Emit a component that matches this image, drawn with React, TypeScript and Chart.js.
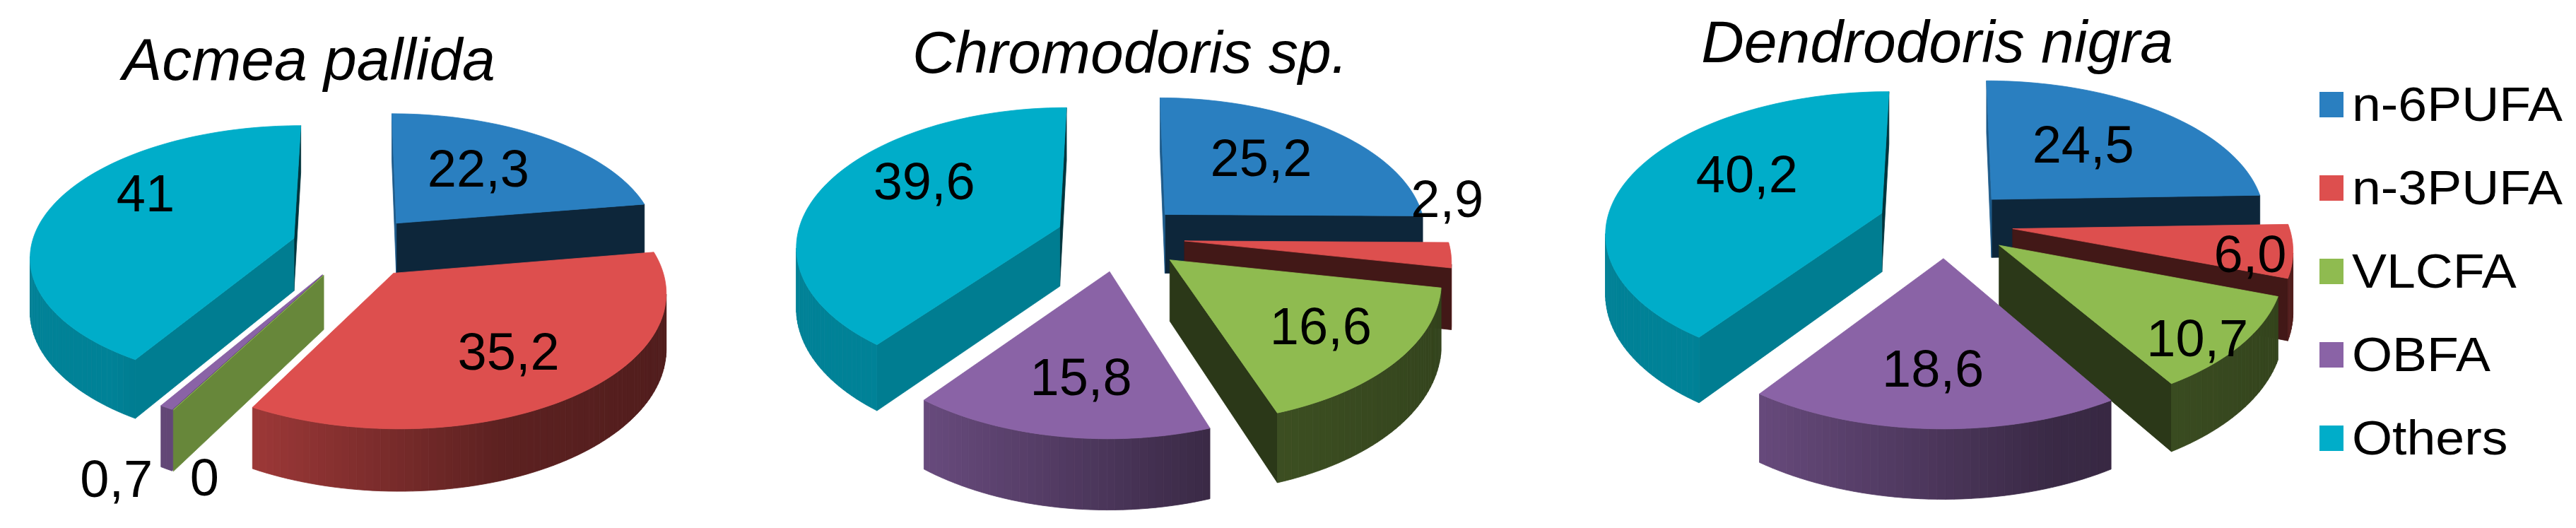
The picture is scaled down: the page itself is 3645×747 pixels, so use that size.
import React, { useEffect, useRef } from "react";
import { Chart, registerables } from "chart.js";

Chart.register(...registerables);

const categories = ["n-6PUFA", "n-3PUFA", "VLCFA", "OBFA", "Others"];
const acmeaValues = [22.3, 35.2, 0, 0.7, 41];
const chromodorisValues = [25.2, 2.9, 16.6, 15.8, 39.6];
const dendrodorisValues = [24.5, 6.0, 10.7, 18.6, 40.2];
const acmeaLabels = ["22,3", "35,2", "0", "0,7", "41"];
const chromodorisLabels = ["25,2", "2,9", "16,6", "15,8", "39,6"];
const dendrodorisLabels = ["24,5", "6,0", "10,7", "18,6", "40,2"];
const colors = ["#2A7FC0", "#DD4F4E", "#8FBB50", "#8A63A6", "#00ADC9"];

const FONT = '"Liberation Sans", Arial, sans-serif';
const K = 0.126;
const EXPLODE = 0.245;
const STEP = Math.PI / 120;

function shade(hex: string, f: number) {
  const n = parseInt(hex.slice(1), 16);
  const c = [(n >> 16) & 255, (n >> 8) & 255, n & 255].map((v) => Math.round(v * f));
  return `rgb(${c[0]},${c[1]},${c[2]})`;
}

function outerShade(nu: number) {
  if (nu < -0.6) return 0.75;
  if (nu < 0.33) return 0.75 - ((nu + 0.6) / 0.93) * 0.33;
  return 0.42 - ((nu - 0.33) / 0.67) * 0.06;
}

const pie3d = {
  id: "pie3d",
  beforeDatasetsDraw(chart: any) {
    const opts = chart.options.plugins.pie3d;
    const ctx: CanvasRenderingContext2D = chart.ctx;
    const meta = chart.getDatasetMeta(0);
    const arcs: any[] = meta.data;
    const order = arcs
      .map((a, i) => ({ a, i, mid: (a.startAngle + a.endAngle) / 2 }))
      .sort((p, q) => Math.sin(p.mid) - Math.sin(q.mid));

    const projector = (arc: any, mid: number) => {
      const ou = Math.cos(mid) * EXPLODE;
      const ov = Math.sin(mid) * EXPLODE;
      return (r: number, ang: number, z: number) => {
        const u = ou + r * Math.cos(ang);
        const v = ov + r * Math.sin(ang);
        const w = 1 / (1 - K * v);
        return [
          arc.x + arc.outerRadius * u * w,
          arc.y + arc.outerRadius * opts.squash * v * w + opts.depth * z * w,
        ];
      };
    };
    const area = (pts: number[][]) => {
      let s = 0;
      pts.forEach((p, i) => {
        const q = pts[(i + 1) % pts.length];
        s += p[0] * q[1] - q[0] * p[1];
      });
      return s / 2;
    };
    const poly = (pts: number[][], fill: string) => {
      ctx.beginPath();
      pts.forEach((p, i) => (i ? ctx.lineTo(p[0], p[1]) : ctx.moveTo(p[0], p[1])));
      ctx.closePath();
      ctx.fillStyle = fill;
      ctx.strokeStyle = fill;
      ctx.lineWidth = 0.8;
      ctx.fill();
      ctx.stroke();
    };

    ctx.save();
    order.forEach(({ a, mid }) => {
      const P = projector(a, mid);
      const col = a.options.backgroundColor;
      const start = a.startAngle;
      const end = a.endAngle;
      const wallEnd = [P(0, 0, 0), P(1, end, 0), P(1, end, 1), P(0, 0, 1)];
      const wallStart = [P(0, 0, 0), P(1, start, 0), P(1, start, 1), P(0, 0, 1)];
      if (area(wallEnd) > 0) poly(wallEnd, shade(col, 0.3));
      if (area(wallStart) < 0) poly(wallStart, shade(col, 0.72));
      const n = Math.max(1, Math.ceil((end - start) / STEP));
      for (let s = 0; s < n; s++) {
        const a1 = start + ((end - start) * s) / n;
        const a2 = start + ((end - start) * (s + 1)) / n;
        const q = [P(1, a1, 0), P(1, a2, 0), P(1, a2, 1), P(1, a1, 1)];
        if (area(q) < 0) poly(q, shade(col, outerShade(Math.cos((a1 + a2) / 2))));
      }
      const top = [P(0, 0, 0)];
      for (let s = 0; s <= n; s++) top.push(P(1, start + ((end - start) * s) / n, 0));
      poly(top, col);
    });

    ctx.fillStyle = "#000";
    ctx.textAlign = "center";
    ctx.textBaseline = "middle";
    ctx.font = `74px ${FONT}`;
    arcs.forEach((a, i) => {
      const mid = (a.startAngle + a.endAngle) / 2;
      const P = projector(a, mid);
      const p = P(0.62, mid, 0);
      const nudge = opts.nudges[i];
      ctx.fillText(opts.labels[i], p[0] + nudge[0], p[1] + nudge[1]);
    });

    ctx.font = `italic 84px ${FONT}`;
    ctx.fillText(opts.title, arcs[0].x + opts.titleDx, opts.titleY);

    if (opts.legend) {
      const { x, y0, dy } = opts.legend;
      categories.forEach((c, i) => {
        const y = y0 + i * dy;
        ctx.fillStyle = colors[i];
        ctx.fillRect(x, y - 18, 34, 36);
        ctx.fillStyle = "#000";
        ctx.textAlign = "left";
        ctx.font = `68px ${FONT}`;
        ctx.save();
        ctx.translate(x + 46, y + 4);
        ctx.scale(1.08, 1);
        ctx.fillText(c, 0, 0);
        ctx.restore();
      });
    }
    ctx.restore();
    return false;
  },
};

function Pie3D(props: any) {
  const ref = useRef<HTMLCanvasElement>(null);
  useEffect(() => {
    const chart = new Chart(ref.current as HTMLCanvasElement, {
      type: "pie",
      data: {
        labels: categories,
        datasets: [
          {
            data: props.values,
            backgroundColor: colors,
            borderWidth: 0,
            radius: props.radius,
          } as any,
        ],
      },
      options: {
        animation: false,
        responsive: false,
        layout: { padding: props.padding },
        plugins: {
          legend: { display: false },
          tooltip: { enabled: false },
          pie3d: {
            labels: props.labels,
            nudges: props.nudges,
            title: props.title,
            titleDx: props.titleDx,
            titleY: props.titleY,
            legend: props.legend,
            squash: props.squash,
            depth: props.depth,
          },
        } as any,
      },
      plugins: [pie3d as any],
    });
    return () => chart.destroy();
  }, []);
  return (
    <canvas
      ref={ref}
      width={props.width}
      height={747}
      style={{ position: "absolute", left: props.left, top: 0, width: props.width, height: 747 }}
    />
  );
}

export default function App() {
  return (
    <div style={{ position: "absolute", left: 0, top: 0, width: 3645, height: 747, overflow: "hidden", background: "#fff" }}>
      <Pie3D
        left={0}
        width={1006}
        radius={372}
        squash={0.49}
        depth={75}
        padding={{ bottom: 49 }}
        values={acmeaValues}
        labels={acmeaLabels}
        nudges={[[-19, 5], [13, 12], [-43, 179], [-161, 183], [4, -29]]}
        title="Acmea pallida"
        titleDx={-66}
        titleY={90}
      />
      <Pie3D
        left={1000}
        width={1170}
        radius={372}
        squash={0.52}
        depth={85}
        padding={{ bottom: 75 }}
        values={chromodorisValues}
        labels={chromodorisLabels}
        nudges={[[-13, 2], [139, -67], [22, 13], [2, 17], [17, -22]]}
        title="Chromodoris sp."
        titleDx={14}
        titleY={80}
      />
      <Pie3D
        left={2200}
        width={1445}
        radius={390}
        squash={0.505}
        depth={84}
        padding={{ bottom: 115, right: 339 }}
        values={dendrodorisValues}
        labels={dendrodorisLabels}
        nudges={[[-23, 7], [92, 21], [75, 52], [-6, 19], [30, -14]]}
        title="Dendrodoris nigra"
        titleDx={-12}
        titleY={65}
        legend={{ x: 1082, y0: 148, dy: 118 }}
      />
    </div>
  );
}
